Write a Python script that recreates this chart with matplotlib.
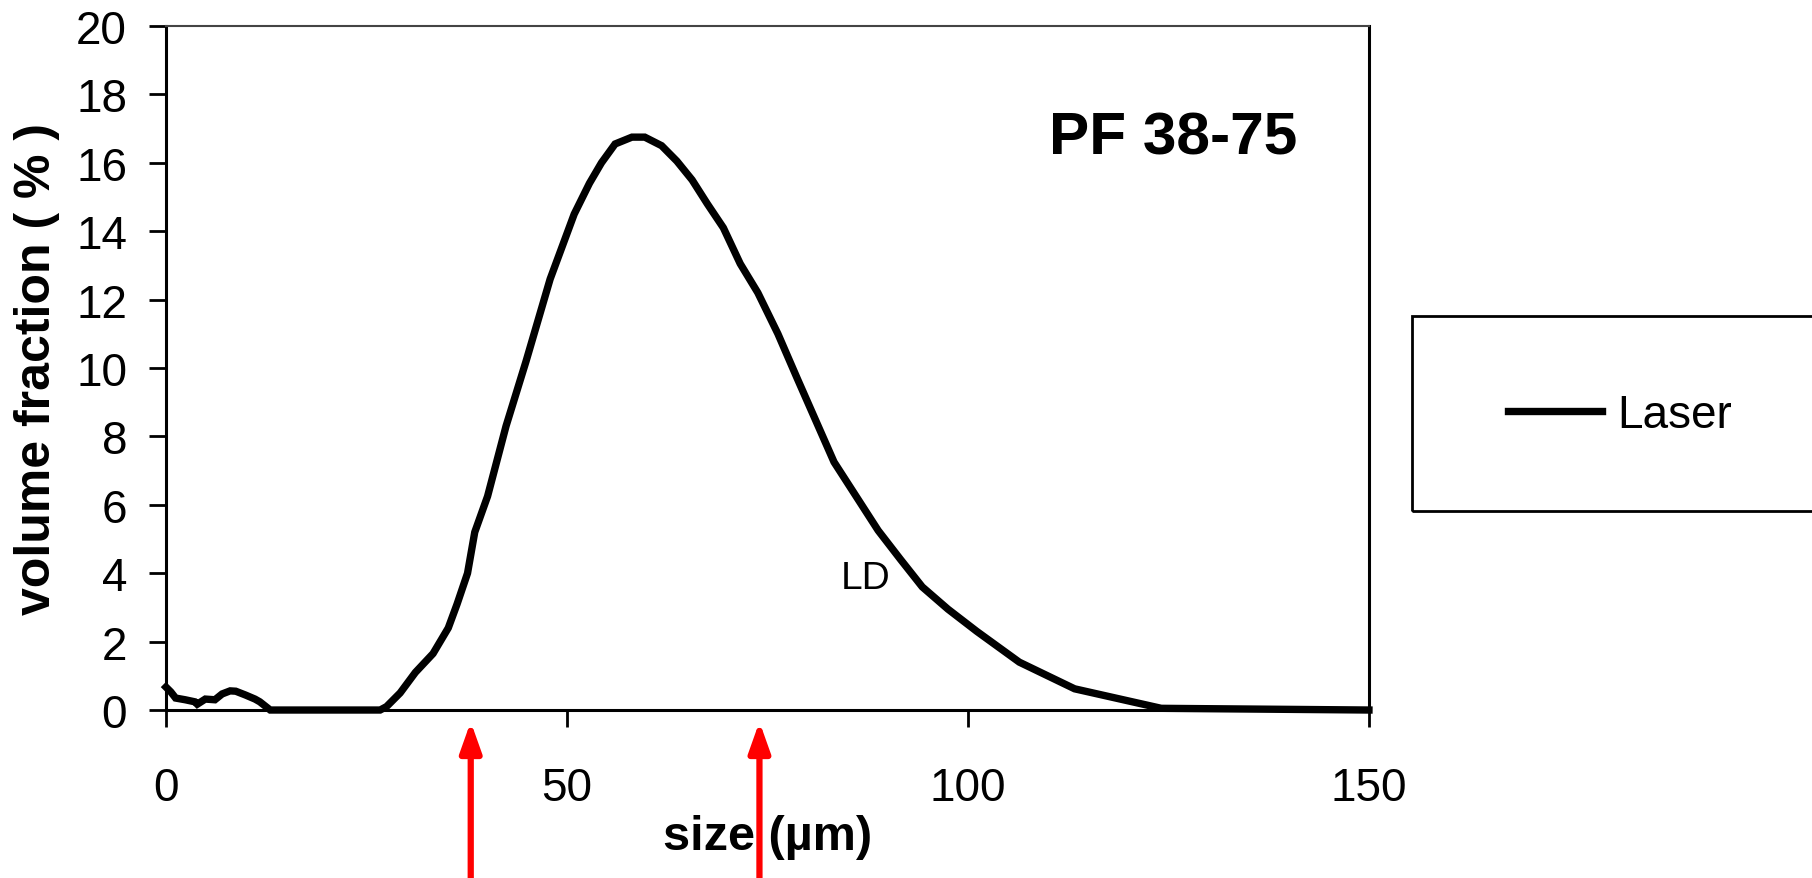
import matplotlib
matplotlib.use("Agg")
import matplotlib.pyplot as plt
from matplotlib.patches import Rectangle
from matplotlib import font_manager

plt.rcParams['font.family'] = ['Liberation Sans', 'DejaVu Sans']

# particle size distribution
size_um = [0, 0.3, 0.6, 1.2, 2.4, 3.6, 3.9, 4.9, 6.1, 7.0, 8.0, 8.7, 9.9, 11.1, 11.7,
           13.0, 26.7, 27.5, 29.2, 31.1, 33.3, 35.2, 36.3, 37.6, 38.5, 40.1, 42.4,
           44.9, 47.9, 50.9, 52.8, 54.3, 56.0, 58.1, 59.7, 61.8, 63.7, 65.6, 67.5,
           69.5, 71.6, 73.8, 76.3, 78.7, 83.3, 88.8, 91.6, 94.3, 97.5, 101.1, 106.4,
           113.3, 120.5, 124.1, 150]
vol_frac = [0.67, 0.6, 0.53, 0.35, 0.30, 0.24, 0.17, 0.32, 0.30, 0.47, 0.56, 0.55,
            0.44, 0.32, 0.24, 0.0, 0.0, 0.1, 0.5, 1.1, 1.65, 2.4, 3.1, 4.0, 5.2,
            6.25, 8.3, 10.2, 12.6, 14.5, 15.4, 16.0, 16.55, 16.75, 16.75, 16.5,
            16.05, 15.5, 14.8, 14.1, 13.05, 12.2, 11.0, 9.7, 7.25, 5.25, 4.4, 3.6,
            2.95, 2.3, 1.4, 0.62, 0.24, 0.05, 0.0]

sieve_cuts = [38, 74]
x_ticks = [0, 50, 100, 150]
y_ticks = list(range(0, 21, 2))

narrow = 'Liberation Sans Narrow'
names = {f.name for f in font_manager.fontManager.ttflist}
if narrow not in names:
    narrow = 'Liberation Sans'

fig = plt.figure(figsize=(18.12, 8.79), dpi=100)
ax = fig.add_axes([0.0916, 0.1911, 0.6639, 0.7782])

ax.plot(size_um, vol_frac, color='black', linewidth=5.3, solid_joinstyle='miter',
        label='Laser', clip_on=False, zorder=3)

ax.set_xlim(0, 150)
ax.set_ylim(0, 20)
ax.set_xticks(x_ticks)
ax.set_yticks(y_ticks)
ax.tick_params(axis='x', direction='out', length=12, width=2, pad=28, labelsize=33)
ax.tick_params(axis='y', direction='out', length=12, width=2, pad=16, labelsize=33)

for s in ['left', 'bottom', 'right']:
    ax.spines[s].set_linewidth(2.2)
    ax.spines[s].set_color('black')
ax.spines['top'].set_linewidth(1.5)
ax.spines['top'].set_color('#444444')

ax.set_xlabel('size (µm)', fontsize=35, fontweight='bold')
ax.xaxis.set_label_coords(0.5, -0.152)
ax.set_ylabel('volume fraction ( % )', fontsize=36, fontweight='bold', family=narrow)
ax.yaxis.set_label_coords(-0.088, 0.5)

ax.text(0.94, 0.836, 'PF 38-75', transform=ax.transAxes, fontsize=43.5,
        fontweight='bold', ha='right', va='center')
ax.text(87.2, 3.85, 'LD', fontsize=28, ha='center', va='center')

# red arrows marking the sieve cut sizes
for c in sieve_cuts:
    ax.annotate('', xy=(c, -0.013), xycoords=ax.get_xaxis_transform(),
                xytext=(c, -0.26), textcoords=ax.get_xaxis_transform(),
                annotation_clip=False,
                arrowprops=dict(arrowstyle='-|>,head_length=0.9,head_width=0.32',
                                color='red', linewidth=4.5, mutation_scale=20))

# legend box (runs off the right edge like the reference)
fig.patches.append(Rectangle((0.779, 0.4175), 0.3, 0.2218, transform=fig.transFigure,
                             fill=False, edgecolor='black', linewidth=2))
fig.legend(loc='center left', bbox_to_anchor=(1508 / 1812, 1 - 416 / 879),
           bbox_transform=fig.transFigure, frameon=False, fontsize=33,
           handlelength=2.05, handletextpad=0.33, borderpad=0, borderaxespad=0)

fig.savefig('out.png', dpi=100)
